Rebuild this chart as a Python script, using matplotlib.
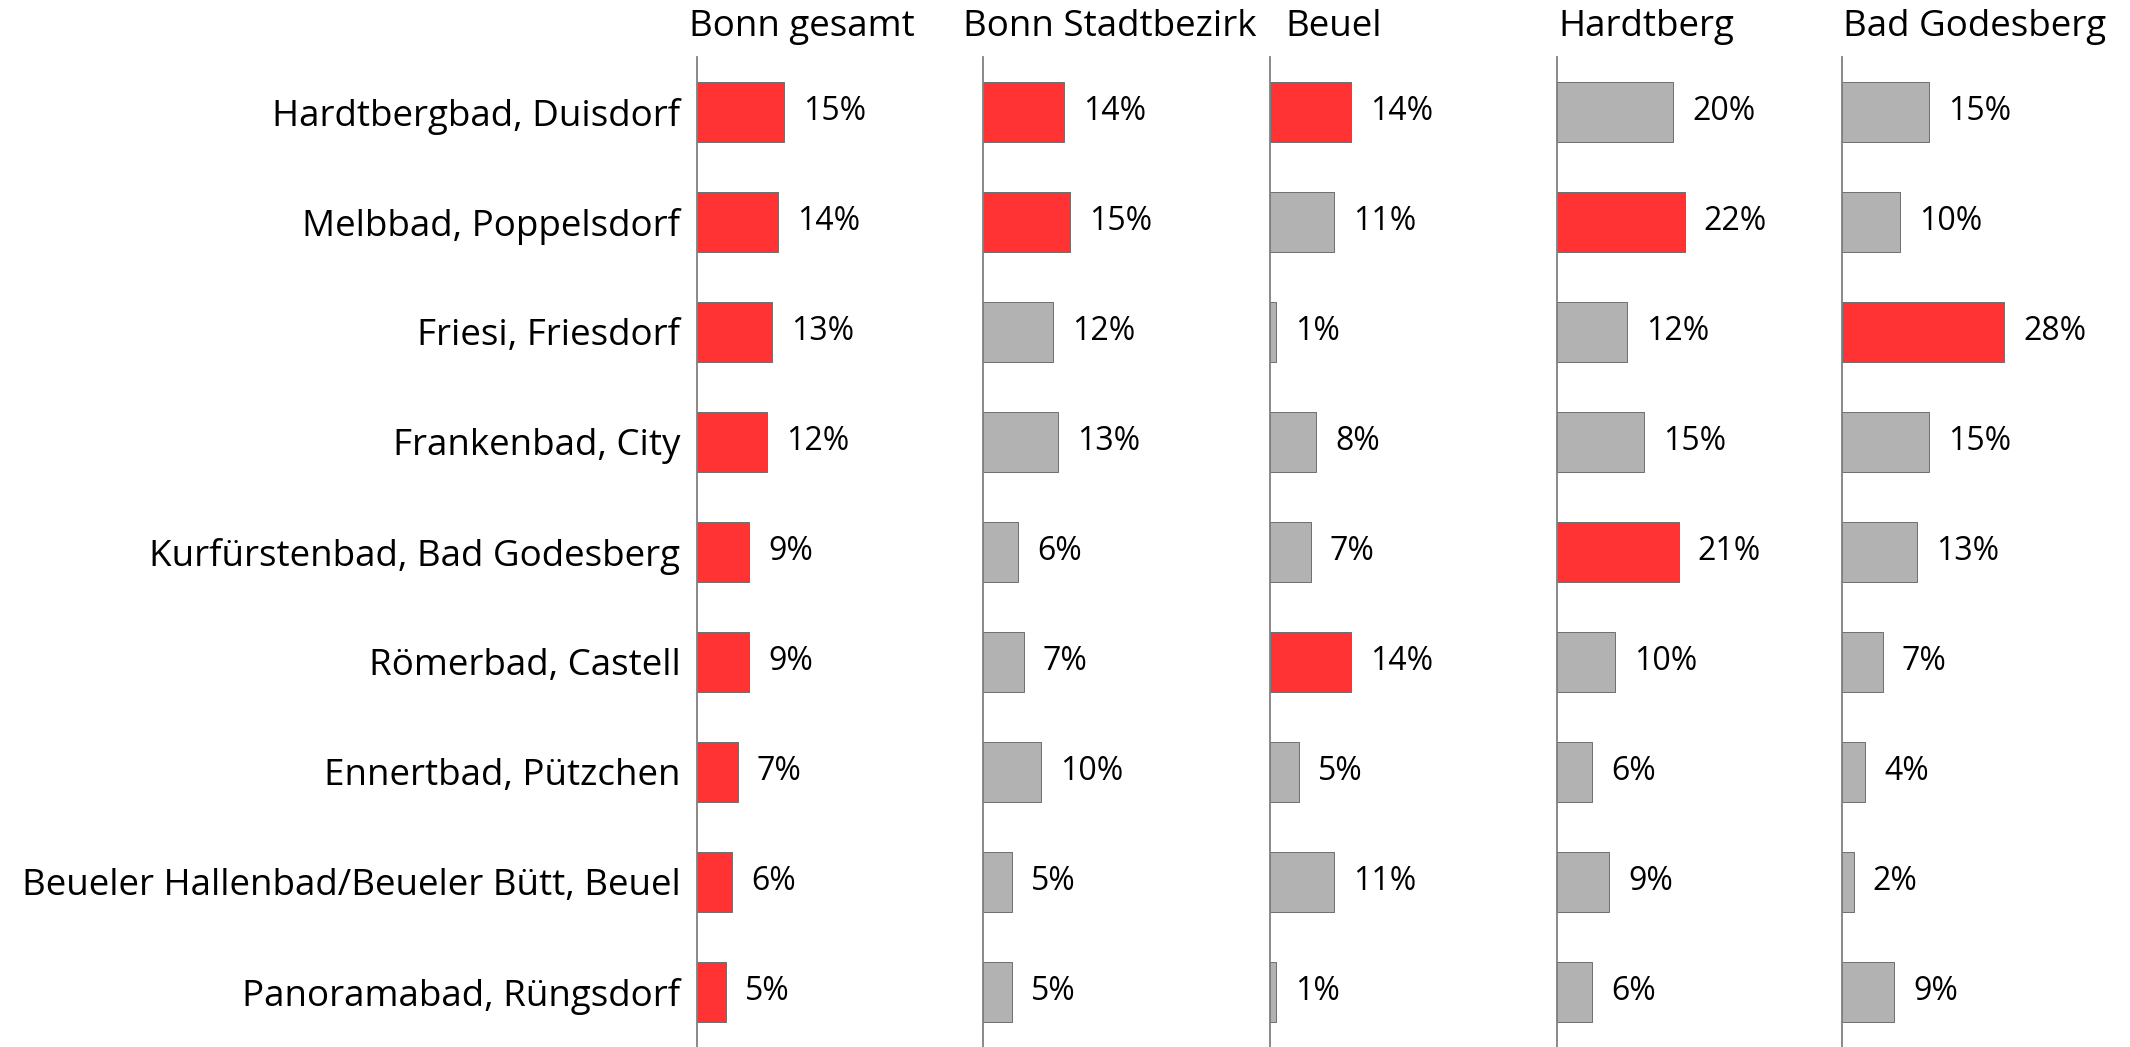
import matplotlib
matplotlib.use("Agg")
import matplotlib.pyplot as plt
from matplotlib import font_manager

names = {f.name for f in font_manager.fontManager.ttflist}
fam = [f for f in ["Liberation Sans Narrow", "Open Sans", "DejaVu Sans"] if f in names]
plt.rcParams['font.family'] = fam

categories = [
    "Hardtbergbad, Duisdorf",
    "Melbbad, Poppelsdorf",
    "Friesi, Friesdorf",
    "Frankenbad, City",
    "Kurfürstenbad, Bad Godesberg",
    "Römerbad, Castell",
    "Ennertbad, Pützchen",
    "Beueler Hallenbad/Beueler Bütt, Beuel",
    "Panoramabad, Rüngsdorf",
]
panels = ["Bonn gesamt", "Bonn Stadtbezirk", "Beuel", "Hardtberg", "Bad Godesberg"]

bonn_gesamt = [15, 14, 13, 12, 9, 9, 7, 6, 5]
bonn_stadtbezirk = [14, 15, 12, 13, 6, 7, 10, 5, 5]
beuel = [14, 11, 1, 8, 7, 14, 5, 11, 1]
hardtberg = [20, 22, 12, 15, 21, 10, 6, 9, 6]
bad_godesberg = [15, 10, 28, 15, 13, 7, 4, 2, 9]

hl_bonn_gesamt = [1, 1, 1, 1, 1, 1, 1, 1, 1]
hl_bonn_stadtbezirk = [1, 1, 0, 0, 0, 0, 0, 0, 0]
hl_beuel = [1, 0, 0, 0, 0, 1, 0, 0, 0]
hl_hardtberg = [0, 1, 0, 0, 1, 0, 0, 0, 0]
hl_bad_godesberg = [0, 0, 1, 0, 0, 0, 0, 0, 0]

series = [bonn_gesamt, bonn_stadtbezirk, beuel, hardtberg, bad_godesberg]
highlights = [hl_bonn_gesamt, hl_bonn_stadtbezirk, hl_beuel, hl_hardtberg, hl_bad_godesberg]

RED = "#FF3333"
GREY = "#B2B2B2"
W, H = 2130, 1047
fig = plt.figure(figsize=(W / 100, H / 100), dpi=100)

axis_x = [697, 983, 1270, 1557, 1842]
panel_w = 286
top_px = 57
title_dx = [-0.028, -0.071, 0.052, 0.005, 0.005]
xmax = panel_w / 5.8

for i, (name, vals, hl) in enumerate(zip(panels, series, highlights)):
    ax = fig.add_axes([axis_x[i] / W, 0, panel_w / W, (H - top_px) / H])
    ys = list(range(len(categories)))
    colors = [RED if h else GREY for h in hl]
    ax.barh(ys, vals, height=0.545, color=colors, edgecolor="#6e6e6e", linewidth=0.7, zorder=2)
    for y, v in zip(ys, vals):
        ax.annotate(f"{v}%", (v, y), xytext=(19, 0), textcoords="offset pixels",
                    ha="left", va="center", fontsize=23, color="black")
    ax.set_xlim(0, xmax)
    ax.set_ylim(len(categories) - 0.5, -0.5)
    for s in ["top", "right", "bottom"]:
        ax.spines[s].set_visible(False)
    ax.spines["left"].set_color("#808080")
    ax.spines["left"].set_linewidth(1.3)
    ax.set_xticks([])
    ax.set_yticks(ys)
    if i == 0:
        ax.set_yticklabels(categories, fontsize=26.5)
        ax.tick_params(axis="y", length=0, pad=12)
    else:
        ax.set_yticklabels([])
        ax.tick_params(axis="y", length=0)
    ax.patch.set_alpha(0)
    fig.text((axis_x[i] + title_dx[i] * 211 * 1.3584) / W, 1 - 27 / H, name,
             ha="left", va="center", fontsize=26.5)

fig.savefig("out.png", dpi=100, facecolor="white")
